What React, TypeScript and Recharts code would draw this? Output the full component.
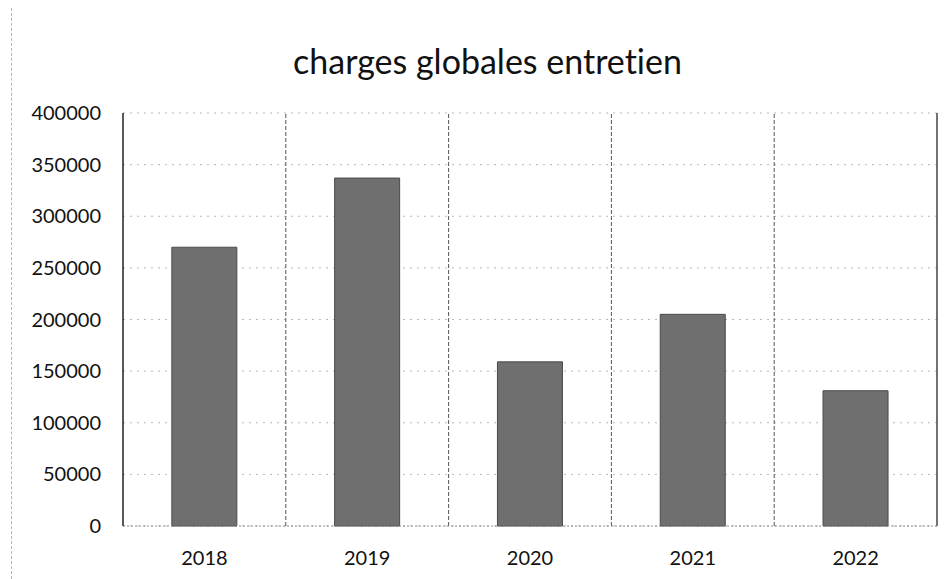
import React from "react";
import {
  BarChart,
  Bar,
  XAxis,
  YAxis,
  CartesianGrid,
  ReferenceLine
} from "recharts";

const years = ["2018", "2019", "2020", "2021", "2022"];
const charges = [270000, 337000, 159000, 205000, 131000];
const yTicks = [0, 50000, 100000, 150000, 200000, 250000, 300000, 350000, 400000];
const dividers = [1, 2, 3, 4];

const data = years.map((year, i) => ({ year, value: charges[i], slot: i + 0.5 }));

const font = "Lato, 'Open Sans', sans-serif";

export default function App() {
  return (
    <div style={{ position: "absolute", left: 0, top: 0, width: 950, height: 579, background: "#fff" }}>
      <div style={{ position: "absolute", left: 11, top: 8, height: 571, borderLeft: "1px dashed #b5b5b5" }} />
      <div
        style={{
          position: "absolute",
          top: 40,
          left: 0,
          width: 975,
          textAlign: "center",
          fontFamily: font,
          fontSize: 34,
          fontVariantLigatures: "none",
          color: "#111"
        }}
      >
        charges globales entretien
      </div>
      <BarChart
        width={950}
        height={579}
        data={data}
        margin={{ top: 113, right: 13, left: 0, bottom: 0 }}
        barCategoryGap="30%"
      >
        <CartesianGrid vertical={false} stroke="#b8b8b8" strokeDasharray="2 5" />
        <XAxis
          dataKey="year"
          height={53}
          tickLine={false}
          tickSize={0}
          tickMargin={25}
          axisLine={{ stroke: "#8a8a8a", strokeDasharray: "2 2" }}
          tick={{ fill: "#111", fontSize: 20, fontFamily: font }}
        />
        <XAxis xAxisId="grid" dataKey="slot" type="number" domain={[0, 5]} allowDataOverflow hide />
        <YAxis
          width={123}
          domain={[0, 400000]}
          ticks={yTicks}
          tickLine={false}
          tickSize={0}
          tickMargin={22}
          axisLine={{ stroke: "#222", strokeWidth: 1.5 }}
          tick={{ fill: "#111", fontSize: 20, fontFamily: font }}
        />
        {dividers.map((d) => (
          <ReferenceLine key={d} xAxisId="grid" x={d} stroke="#555" strokeDasharray="4 2" />
        ))}
        <ReferenceLine xAxisId="grid" x={5} stroke="#444" strokeWidth={1.5} />
        <Bar dataKey="value" fill="#6f6f6f" stroke="#4a4a4a" isAnimationActive={false} />
      </BarChart>
    </div>
  );
}
